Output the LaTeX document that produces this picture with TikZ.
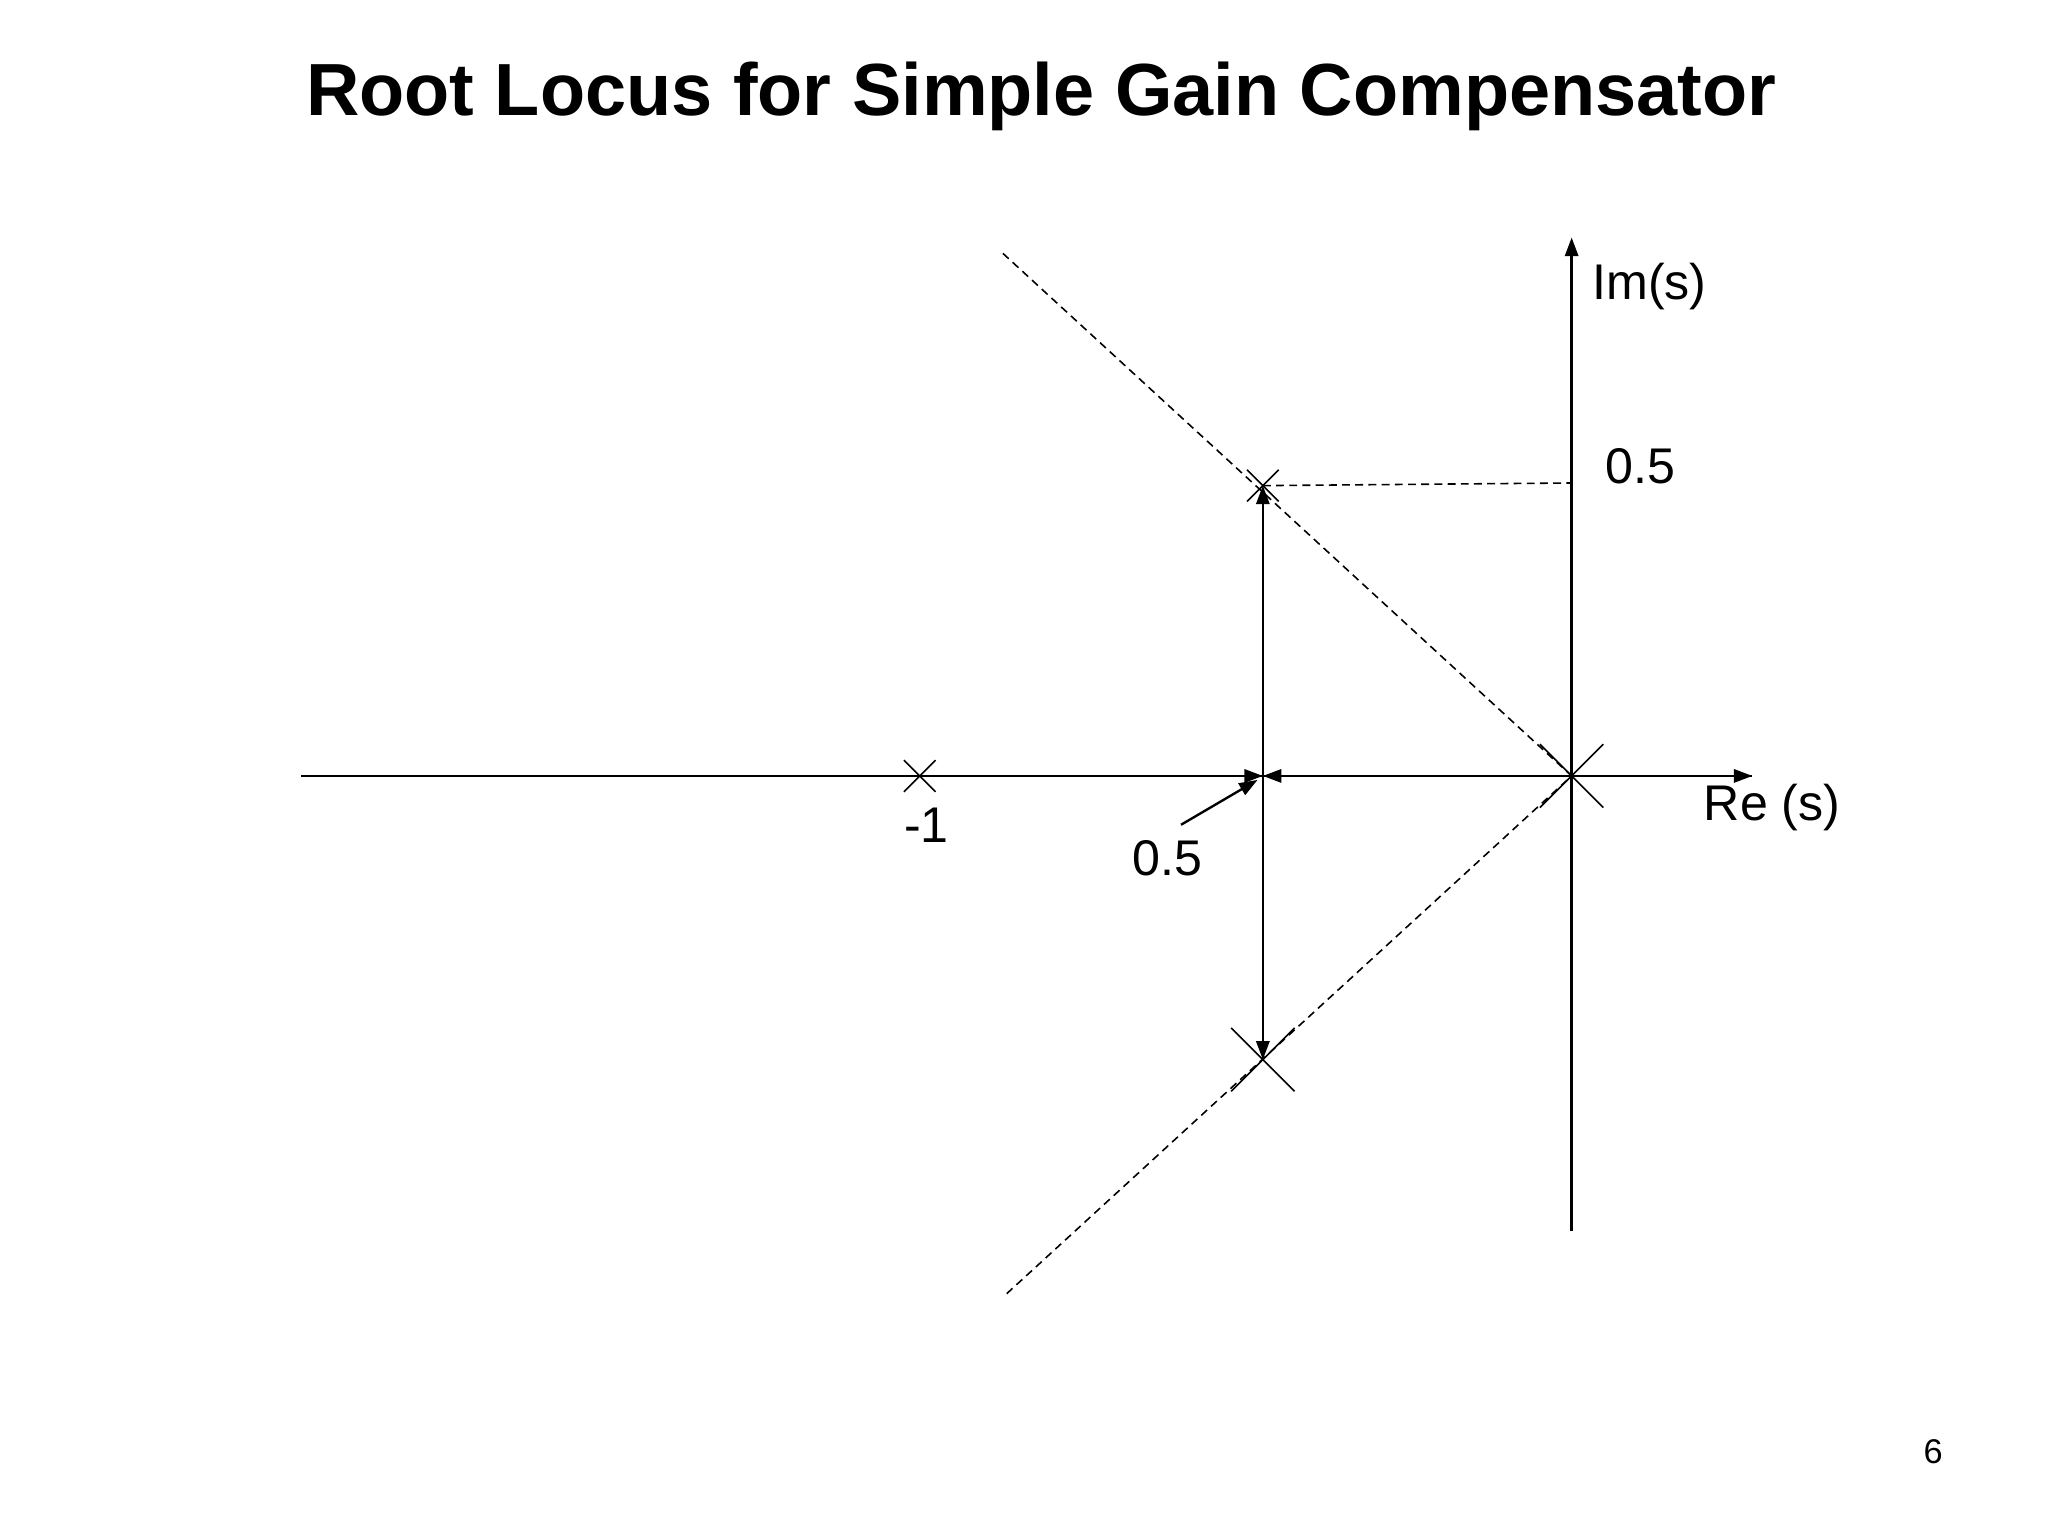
\documentclass[tikz,border=0pt]{standalone}
\usepackage{fontspec}
\setmainfont{Liberation Sans}
\usetikzlibrary{arrows.meta}
\begin{document}
\begin{tikzpicture}[x=0.5pt,y=-0.5pt,
  ax/.style={line width=0.9pt,-{Triangle[length=7pt,width=5pt]}},
  dsh/.style={dashed,line width=0.6pt,dash pattern=on 3pt off 2pt},
  lbl/.style={font=\fontsize{19}{22}\selectfont,inner sep=0pt},
  xm/.style={line width=0.6pt}]
\useasboundingbox (0,0) rectangle (1552,1164);
\node[font=\fontsize{28}{32}\selectfont\bfseries] (title) at (789,73) {Root Locus for Simple Gain Compensator};
\coordinate (L) at (228,588);
\coordinate (R) at (1328,588);
\coordinate (B) at (1191,933);
\coordinate (T) at (1191,180);
\coordinate (O) at (1191,588);
\coordinate (M1) at (697,588);
\coordinate (S) at (957,588);
\coordinate (P1) at (957,368);
\coordinate (P2) at (957,803);
\coordinate (D1) at (760,192);
\coordinate (D2) at (760,983);
\coordinate (H) at (1191,366);
\draw[line width=0.9pt] (L) -- (R);
\draw[ax] (O) ++(100,0) -- (R);
\draw[ax] (B) -- (T);
\draw[ax] (M1) -- (S);
\draw[ax] (O) -- (S);
\draw[ax] (S) -- (P1);
\draw[ax] (S) -- (P2);
\draw[dsh] (D1) -- (O) -- (D2);
\draw[dsh] (P1) -- (H);
\foreach \p/\s in {M1/12,O/24,P1/12,P2/24}{
  \draw[xm] (\p) ++(-\s,-\s) -- ++(2*\s,2*\s);
  \draw[xm] (\p) ++(-\s,\s) -- ++(2*\s,-2*\s);
}
\node[lbl] (im) at (1250,217) {Im(s)};
\node[lbl] (h5) at (1243,353) {0.5};
\node[lbl] (re) at (1343,612) {Re (s)};
\node[lbl] (m1) at (702,625) {-1};
\node[lbl] (s5) at (885,650) {0.5};
\coordinate (sa) at (895,625);
\draw[line width=0.9pt,-{Triangle[length=7pt,width=5pt]}] (sa) -- (953,591);
\node[font=\fontsize{13}{15}\selectfont] (pg) at (1465,1100) {6};
\end{tikzpicture}
\end{document}
